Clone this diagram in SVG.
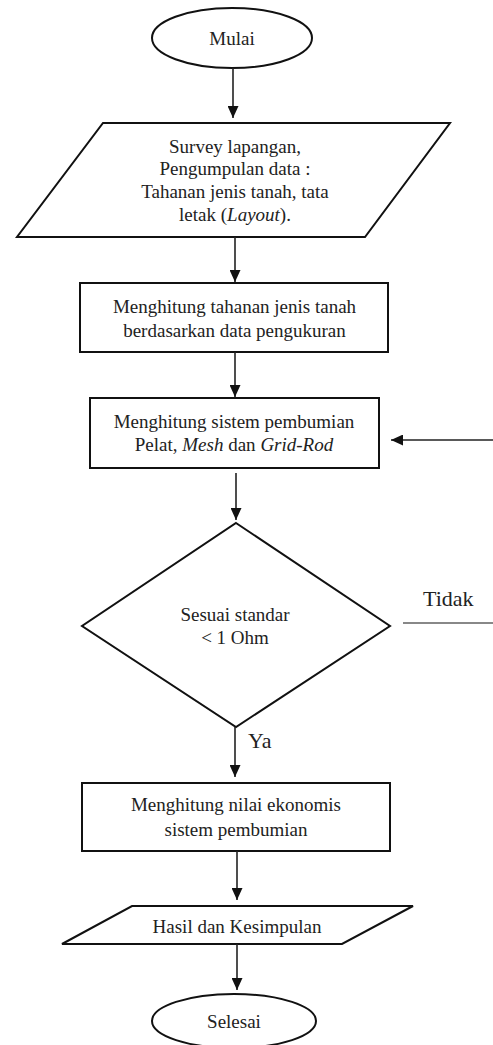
<svg xmlns="http://www.w3.org/2000/svg" width="493" height="1045" viewBox="0 0 493 1045">
<style>
.shape{fill:#fff;stroke:#111;stroke-width:2}
.t{font-family:"Liberation Serif","Times New Roman",serif;font-size:19px;fill:#222;text-anchor:middle}
.lbl{font-family:"Liberation Serif","Times New Roman",serif;font-size:22px;fill:#222}
.c{stroke:#222;stroke-width:1.6;fill:none}
</style>
<defs>
<marker id="ah" markerUnits="userSpaceOnUse" markerWidth="12" markerHeight="11" refX="12" refY="5.5" orient="auto">
<path d="M0,0 L12,5.5 L0,11 z" fill="#111"/>
</marker>
</defs>
<rect width="493" height="1045" fill="#fff"/>
<g id="mulai">
<ellipse class="shape" cx="232" cy="38" rx="80" ry="30"/>
<text class="t" x="232" y="45">Mulai</text>
</g>
<g id="survey">
<polygon class="shape" points="103,123 450,123 365,237 17,237"/>
<text class="t" x="235" y="153">Survey lapangan,</text>
<text class="t" x="235" y="175">Pengumpulan data :</text>
<text class="t" x="235" y="198">Tahanan jenis tanah, tata</text>
<text class="t" x="235" y="221">letak (<tspan font-style="italic">Layout</tspan>).</text>
</g>
<g id="hitung-tahanan">
<rect class="shape" x="80" y="283" width="308" height="69" stroke-width="2.4"/>
<text class="t" x="234.5" y="313">Menghitung tahanan jenis tanah</text>
<text class="t" x="234.5" y="337">berdasarkan data pengukuran</text>
</g>
<g id="hitung-sistem">
<rect class="shape" x="90" y="398" width="289" height="70"/>
<text class="t" x="234" y="428">Menghitung sistem pembumian</text>
<text class="t" x="234" y="451">Pelat, <tspan font-style="italic">Mesh</tspan> dan <tspan font-style="italic">Grid-Rod</tspan></text>
</g>
<g id="sesuai">
<polygon class="shape" points="236,523 390,626 236,727 82,626"/>
<text class="t" x="235" y="621">Sesuai standar</text>
<text class="t" x="235" y="644">&lt; 1 Ohm</text>
</g>
<g id="ekonomis">
<rect class="shape" x="82" y="783" width="308" height="68"/>
<text class="t" x="236" y="811">Menghitung nilai ekonomis</text>
<text class="t" x="236" y="836">sistem pembumian</text>
</g>
<g id="hasil">
<polygon class="shape" points="132,906 413,906 342,944 62,944"/>
<text class="t" x="237" y="933">Hasil dan Kesimpulan</text>
</g>
<g id="selesai">
<ellipse class="shape" cx="234" cy="1021" rx="82" ry="27"/>
<text class="t" x="234" y="1028">Selesai</text>
</g>
<g id="connectors">
<line class="c" x1="233" y1="68" x2="233" y2="118" marker-end="url(#ah)"/>
<line class="c" x1="235" y1="237" x2="235" y2="282" marker-end="url(#ah)"/>
<line class="c" x1="235" y1="352" x2="235" y2="397" marker-end="url(#ah)"/>
<line class="c" x1="236" y1="473" x2="236" y2="520" marker-end="url(#ah)"/>
<line class="c" x1="235" y1="727" x2="235" y2="777" marker-end="url(#ah)"/>
<line class="c" x1="237" y1="851" x2="237" y2="900" marker-end="url(#ah)"/>
<line class="c" x1="237" y1="944" x2="237" y2="990" marker-end="url(#ah)"/>
<line class="c" x1="493" y1="440" x2="391" y2="440" stroke="#444" marker-end="url(#ah)"/>
<line x1="403" y1="623" x2="493" y2="623" stroke="#888" stroke-width="2"/>
<text class="lbl" x="423" y="606">Tidak</text>
<text class="lbl" x="248" y="748">Ya</text>
</g>
</svg>
